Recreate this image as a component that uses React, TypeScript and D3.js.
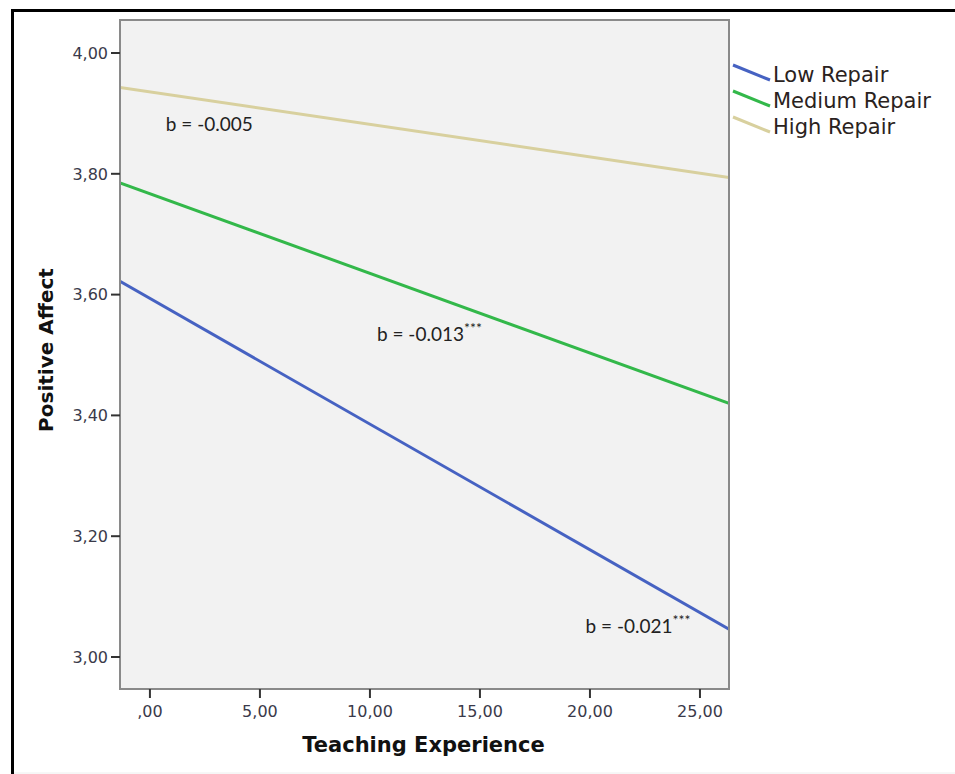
import React from "react";
import * as d3 from "d3";

const xEnds = [-1.36, 26.32];
const lowRepair = [3.622, 3.046];
const mediumRepair = [3.785, 3.42];
const highRepair = [3.943, 3.794];
const xTicks = [0, 5, 10, 15, 20, 25];
const yTicks = [3.0, 3.2, 3.4, 3.6, 3.8, 4.0];
const seriesNames = ["Low Repair", "Medium Repair", "High Repair"];
const seriesColors = ["#4662c2", "#33b84a", "#d8d09e"];
const annotations = [
  { text: "b = -0.005", sup: "", x: 0.72, y: 3.871 },
  { text: "b = -0.013", sup: "***", x: 10.32, y: 3.523 },
  { text: "b = -0.021", sup: "***", x: 19.8, y: 3.04 },
];

const fmt = (v: number) => {
  const s = v.toFixed(2).replace(".", ",");
  return s.startsWith("0,") ? s.slice(1) : s;
};

export default function App() {
  const W = 955, H = 774;
  const left = 120, right = 729, top = 20, bottom = 689;
  const x = d3.scaleLinear().domain([xEnds[0], xEnds[1]]).range([left, right]);
  const y = d3.scaleLinear().domain([3, 4]).range([657, 53]);
  const line = d3
    .line<[number, number]>()
    .x((d) => x(d[0]))
    .y((d) => y(d[1]));
  const series = [lowRepair, mediumRepair, highRepair];
  const tickFont = "'DejaVu Sans', Verdana, sans-serif";
  const annFont = "Lato, 'Open Sans', sans-serif";

  return (
    <svg
      width={W}
      height={H}
      style={{ position: "absolute", left: 0, top: 0, display: "block", background: "#fff" }}
    >
      {/* outer frame */}
      <line x1={12.5} y1={9} x2={12.5} y2={H} stroke="#000" strokeWidth={3} />
      <line x1={11} y1={10.5} x2={W} y2={10.5} stroke="#000" strokeWidth={3} />
      <line x1={14} y1={773} x2={W} y2={773} stroke="#eee" strokeWidth={1} />

      {/* plot area */}
      <rect x={left} y={top} width={right - left} height={bottom - top} fill="#f2f2f2" />

      <defs>
        <clipPath id="clip">
          <rect x={left} y={top} width={right - left} height={bottom - top} />
        </clipPath>
      </defs>

      {/* series lines */}
      <g clipPath="url(#clip)">
        {series.map((vals, i) => (
          <path
            key={seriesNames[i]}
            d={line(xEnds.map((xv, j) => [xv, vals[j]] as [number, number])) || ""}
            fill="none"
            stroke={seriesColors[i]}
            strokeWidth={3}
          />
        ))}
      </g>

      <rect
        x={left}
        y={top}
        width={right - left}
        height={bottom - top}
        fill="none"
        stroke="#8a8a8a"
        strokeWidth={2}
      />

      {/* y axis ticks */}
      {yTicks.map((t) => (
        <g key={t}>
          <line x1={left - 9} x2={left} y1={y(t)} y2={y(t)} stroke="#333" strokeWidth={2} />
          <text
            x={left - 12}
            y={y(t)}
            dy="0.36em"
            textAnchor="end"
            fontFamily={tickFont}
            fontSize={16}
            fill="#3a3a4a"
          >
            {fmt(t)}
          </text>
        </g>
      ))}

      {/* x axis ticks */}
      {xTicks.map((t) => (
        <g key={t}>
          <line x1={x(t)} x2={x(t)} y1={bottom} y2={bottom + 9} stroke="#333" strokeWidth={2} />
          <text
            x={x(t)}
            y={717}
            textAnchor="middle"
            fontFamily={tickFont}
            fontSize={16}
            fill="#3a3a4a"
          >
            {fmt(t)}
          </text>
        </g>
      ))}

      {/* axis titles */}
      <text
        x={423.5}
        y={752}
        textAnchor="middle"
        fontFamily={tickFont}
        fontWeight="bold"
        fontSize={21}
        fill="#111"
      >
        Teaching Experience
      </text>
      <text
        transform={`translate(53, 350) rotate(-90)`}
        textAnchor="middle"
        fontFamily={tickFont}
        fontWeight="bold"
        fontSize={20}
        fill="#111"
      >
        Positive Affect
      </text>

      {/* annotations */}
      {annotations.map((a) => (
        <text
          key={a.text}
          x={x(a.x)}
          y={y(a.y)}
          fontFamily={annFont}
          fontSize={19}
          fill="#222"
        >
          {a.text}
          {a.sup && (
            <tspan dy="-8" fontSize={14}>
              {a.sup}
            </tspan>
          )}
        </text>
      ))}

      {/* legend */}
      {seriesNames.map((name, i) => {
        const ly = 65 + i * 26;
        return (
          <g key={name}>
            <line
              x1={733}
              y1={ly}
              x2={770}
              y2={ly + 15}
              stroke={seriesColors[i]}
              strokeWidth={3}
            />
            <text
              x={773}
              y={ly + 17}
              fontFamily={tickFont}
              fontSize={21}
              fill="#2a2220"
            >
              {name}
            </text>
          </g>
        );
      })}
    </svg>
  );
}
